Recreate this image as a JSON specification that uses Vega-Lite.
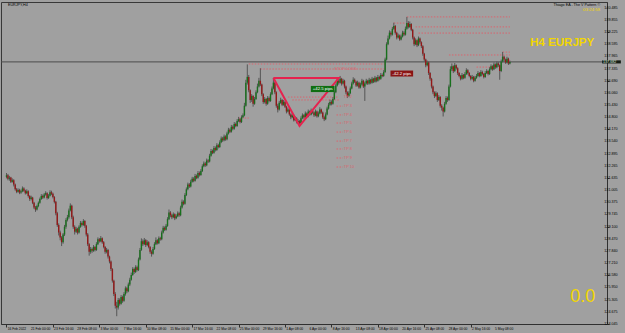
{
"$schema": "https://vega.github.io/schema/vega-lite/v6.json",
"width": 606, "height": 322,
"autosize": {"type": "none"},
"padding": {"left": 1, "top": 2, "right": 18, "bottom": 9},
"background": "#a0a0a0",
"config": {"view": {"stroke": "#383838", "strokeWidth": 1, "fill": "#a0a0a0"}, "axis": {"grid": false, "domainColor": "#303030", "tickColor": "#303030"}},
"datasets": {
"c": [
{"i":0,"o":131.70,"h":131.90,"l":131.62,"c":131.78},{"i":1,"o":131.78,"h":131.85,"l":131.52,"c":131.60},{"i":2,"o":131.60,"h":131.75,"l":131.50,"c":131.66},{"i":3,"o":131.66,"h":131.70,"l":131.38,"c":131.45},{"i":4,"o":131.45,"h":131.62,"l":131.40,"c":131.52},{"i":5,"o":131.52,"h":131.58,"l":131.20,"c":131.30},{"i":6,"o":131.30,"h":131.35,"l":130.98,"c":131.05},{"i":7,"o":131.05,"h":131.12,"l":130.85,"c":130.92},{"i":8,"o":130.92,"h":131.10,"l":130.88,"c":131.02},{"i":9,"o":131.02,"h":131.08,"l":130.80,"c":130.88},
{"i":10,"o":130.88,"h":131.04,"l":130.82,"c":130.95},{"i":11,"o":130.95,"h":131.20,"l":130.90,"c":131.10},{"i":12,"o":131.10,"h":131.16,"l":130.92,"c":130.98},{"i":13,"o":130.98,"h":131.03,"l":130.78,"c":130.85},{"i":14,"o":130.85,"h":131.05,"l":130.80,"c":130.95},{"i":15,"o":130.95,"h":131.00,"l":130.62,"c":130.70},{"i":16,"o":130.70,"h":130.75,"l":130.45,"c":130.55},{"i":17,"o":130.55,"h":130.72,"l":130.48,"c":130.62},{"i":18,"o":130.62,"h":130.66,"l":130.28,"c":130.35},{"i":19,"o":130.35,"h":130.40,"l":130.02,"c":130.10},
{"i":20,"o":130.10,"h":130.18,"l":129.88,"c":130.00},{"i":21,"o":130.00,"h":130.25,"l":129.95,"c":130.18},{"i":22,"o":130.18,"h":130.42,"l":130.12,"c":130.35},{"i":23,"o":130.35,"h":130.62,"l":130.30,"c":130.55},{"i":24,"o":130.55,"h":130.80,"l":130.50,"c":130.70},{"i":25,"o":130.70,"h":130.78,"l":130.55,"c":130.62},{"i":26,"o":130.62,"h":130.86,"l":130.58,"c":130.78},{"i":27,"o":130.78,"h":130.95,"l":130.72,"c":130.85},{"i":28,"o":130.85,"h":130.90,"l":130.52,"c":130.60},{"i":29,"o":130.60,"h":130.80,"l":130.55,"c":130.72},
{"i":30,"o":130.72,"h":131.00,"l":130.68,"c":130.90},{"i":31,"o":130.90,"h":130.98,"l":130.75,"c":130.82},{"i":32,"o":130.82,"h":130.88,"l":130.58,"c":130.65},{"i":33,"o":130.65,"h":130.70,"l":130.32,"c":130.40},{"i":34,"o":130.40,"h":130.45,"l":129.70,"c":129.80},{"i":35,"o":129.80,"h":129.88,"l":129.10,"c":129.20},{"i":36,"o":129.20,"h":129.28,"l":128.65,"c":128.80},{"i":37,"o":128.80,"h":128.90,"l":128.40,"c":128.55},{"i":38,"o":128.55,"h":128.62,"l":128.10,"c":128.30},{"i":39,"o":128.30,"h":128.78,"l":128.22,"c":128.70},
{"i":40,"o":128.70,"h":129.20,"l":128.62,"c":129.10},{"i":41,"o":129.10,"h":129.55,"l":129.00,"c":129.45},{"i":42,"o":129.45,"h":129.72,"l":129.38,"c":129.60},{"i":43,"o":129.60,"h":130.05,"l":129.52,"c":129.95},{"i":44,"o":129.95,"h":130.32,"l":129.90,"c":130.20},{"i":45,"o":130.20,"h":130.25,"l":129.50,"c":129.60},{"i":46,"o":129.60,"h":129.68,"l":129.00,"c":129.10},{"i":47,"o":129.10,"h":129.18,"l":128.70,"c":128.85},{"i":48,"o":128.85,"h":129.10,"l":128.78,"c":129.00},{"i":49,"o":129.00,"h":129.05,"l":128.70,"c":128.80},
{"i":50,"o":128.80,"h":129.18,"l":128.75,"c":129.10},{"i":51,"o":129.10,"h":129.40,"l":129.05,"c":129.30},{"i":52,"o":129.30,"h":129.38,"l":129.12,"c":129.20},{"i":53,"o":129.20,"h":129.50,"l":129.15,"c":129.40},{"i":54,"o":129.40,"h":129.45,"l":129.05,"c":129.15},{"i":55,"o":129.15,"h":129.20,"l":128.60,"c":128.70},{"i":56,"o":128.70,"h":128.78,"l":128.10,"c":128.20},{"i":57,"o":128.20,"h":128.25,"l":127.60,"c":127.80},{"i":58,"o":127.80,"h":128.05,"l":127.70,"c":127.95},{"i":59,"o":127.95,"h":128.02,"l":127.75,"c":127.85},
{"i":60,"o":127.85,"h":128.15,"l":127.80,"c":128.05},{"i":61,"o":128.05,"h":128.10,"l":127.82,"c":127.90},{"i":62,"o":127.90,"h":128.30,"l":127.85,"c":128.20},{"i":63,"o":128.20,"h":128.55,"l":128.15,"c":128.45},{"i":64,"o":128.45,"h":128.52,"l":128.28,"c":128.35},{"i":65,"o":128.35,"h":128.62,"l":128.30,"c":128.50},{"i":66,"o":128.50,"h":128.55,"l":128.22,"c":128.30},{"i":67,"o":128.30,"h":128.36,"l":127.98,"c":128.05},{"i":68,"o":128.05,"h":128.10,"l":127.70,"c":127.80},{"i":69,"o":127.80,"h":128.00,"l":127.72,"c":127.90},
{"i":70,"o":127.90,"h":127.95,"l":127.45,"c":127.55},{"i":71,"o":127.55,"h":127.60,"l":127.20,"c":127.30},{"i":72,"o":127.30,"h":127.35,"l":126.80,"c":126.90},{"i":73,"o":126.90,"h":126.95,"l":126.20,"c":126.30},{"i":74,"o":126.30,"h":126.35,"l":125.50,"c":125.60},{"i":75,"o":125.60,"h":125.70,"l":124.85,"c":125.00},{"i":76,"o":125.00,"h":125.20,"l":124.45,"c":124.90},{"i":77,"o":124.90,"h":125.40,"l":124.80,"c":125.30},{"i":78,"o":125.30,"h":125.38,"l":125.00,"c":125.10},{"i":79,"o":125.10,"h":125.55,"l":125.05,"c":125.45},
{"i":80,"o":125.45,"h":125.52,"l":125.15,"c":125.25},{"i":81,"o":125.25,"h":125.70,"l":125.20,"c":125.60},{"i":82,"o":125.60,"h":126.00,"l":125.52,"c":125.90},{"i":83,"o":125.90,"h":125.98,"l":125.65,"c":125.75},{"i":84,"o":125.75,"h":126.20,"l":125.70,"c":126.10},{"i":85,"o":126.10,"h":126.45,"l":126.02,"c":126.35},{"i":86,"o":126.35,"h":126.72,"l":126.30,"c":126.60},{"i":87,"o":126.60,"h":127.00,"l":126.55,"c":126.90},{"i":88,"o":126.90,"h":126.98,"l":126.65,"c":126.75},{"i":89,"o":126.75,"h":127.10,"l":126.70,"c":127.00},
{"i":90,"o":127.00,"h":127.08,"l":126.78,"c":126.85},{"i":91,"o":126.85,"h":127.50,"l":126.80,"c":127.40},{"i":92,"o":127.40,"h":128.00,"l":127.35,"c":127.90},{"i":93,"o":127.90,"h":128.50,"l":127.85,"c":128.35},{"i":94,"o":128.35,"h":128.45,"l":128.10,"c":128.20},{"i":95,"o":128.20,"h":128.52,"l":128.15,"c":128.40},{"i":96,"o":128.40,"h":128.46,"l":128.05,"c":128.15},{"i":97,"o":128.15,"h":128.40,"l":128.10,"c":128.30},{"i":98,"o":128.30,"h":128.35,"l":127.98,"c":128.05},{"i":99,"o":128.05,"h":128.10,"l":127.70,"c":127.80},
{"i":100,"o":127.80,"h":127.88,"l":127.55,"c":127.70},{"i":101,"o":127.70,"h":128.05,"l":127.65,"c":127.95},{"i":102,"o":127.95,"h":128.30,"l":127.90,"c":128.20},{"i":103,"o":128.20,"h":128.55,"l":128.15,"c":128.40},{"i":104,"o":128.40,"h":128.46,"l":128.18,"c":128.25},{"i":105,"o":128.25,"h":128.60,"l":128.20,"c":128.50},{"i":106,"o":128.50,"h":128.58,"l":128.38,"c":128.45},{"i":107,"o":128.45,"h":128.90,"l":128.40,"c":128.80},{"i":108,"o":128.80,"h":129.15,"l":128.75,"c":129.05},{"i":109,"o":129.05,"h":129.12,"l":128.88,"c":128.95},
{"i":110,"o":128.95,"h":129.25,"l":128.90,"c":129.15},{"i":111,"o":129.15,"h":129.60,"l":129.10,"c":129.50},{"i":112,"o":129.50,"h":130.00,"l":129.45,"c":129.85},{"i":113,"o":129.85,"h":129.92,"l":129.60,"c":129.70},{"i":114,"o":129.70,"h":129.78,"l":129.50,"c":129.60},{"i":115,"o":129.60,"h":129.85,"l":129.55,"c":129.75},{"i":116,"o":129.75,"h":129.80,"l":129.45,"c":129.55},{"i":117,"o":129.55,"h":129.75,"l":129.50,"c":129.65},{"i":118,"o":129.65,"h":129.90,"l":129.60,"c":129.80},{"i":119,"o":129.80,"h":129.88,"l":129.62,"c":129.70},
{"i":120,"o":129.70,"h":130.20,"l":129.65,"c":130.10},{"i":121,"o":130.10,"h":130.52,"l":130.05,"c":130.40},{"i":122,"o":130.40,"h":130.48,"l":130.22,"c":130.30},{"i":123,"o":130.30,"h":130.85,"l":130.25,"c":130.75},{"i":124,"o":130.75,"h":131.15,"l":130.70,"c":131.05},{"i":125,"o":131.05,"h":131.40,"l":131.00,"c":131.30},{"i":126,"o":131.30,"h":131.38,"l":131.12,"c":131.20},{"i":127,"o":131.20,"h":131.55,"l":131.15,"c":131.45},{"i":128,"o":131.45,"h":131.70,"l":131.40,"c":131.60},{"i":129,"o":131.60,"h":131.68,"l":131.42,"c":131.50},
{"i":130,"o":131.50,"h":131.85,"l":131.45,"c":131.75},{"i":131,"o":131.75,"h":131.82,"l":131.58,"c":131.65},{"i":132,"o":131.65,"h":132.00,"l":131.60,"c":131.90},{"i":133,"o":131.90,"h":131.98,"l":131.72,"c":131.80},{"i":134,"o":131.80,"h":132.10,"l":131.75,"c":132.00},{"i":135,"o":132.00,"h":132.35,"l":131.95,"c":132.25},{"i":136,"o":132.25,"h":132.50,"l":132.20,"c":132.40},{"i":137,"o":132.40,"h":132.48,"l":132.22,"c":132.30},{"i":138,"o":132.30,"h":132.65,"l":132.25,"c":132.55},{"i":139,"o":132.55,"h":132.62,"l":132.42,"c":132.50},
{"i":140,"o":132.50,"h":132.90,"l":132.45,"c":132.80},{"i":141,"o":132.80,"h":133.15,"l":132.75,"c":133.05},{"i":142,"o":133.05,"h":133.12,"l":132.88,"c":132.95},{"i":143,"o":132.95,"h":133.30,"l":132.90,"c":133.20},{"i":144,"o":133.20,"h":133.28,"l":133.02,"c":133.10},{"i":145,"o":133.10,"h":133.45,"l":133.05,"c":133.35},{"i":146,"o":133.35,"h":133.42,"l":133.18,"c":133.25},{"i":147,"o":133.25,"h":133.60,"l":133.20,"c":133.50},{"i":148,"o":133.50,"h":133.80,"l":133.45,"c":133.70},{"i":149,"o":133.70,"h":133.78,"l":133.52,"c":133.60},
{"i":150,"o":133.60,"h":133.90,"l":133.55,"c":133.80},{"i":151,"o":133.80,"h":133.86,"l":133.58,"c":133.65},{"i":152,"o":133.65,"h":134.05,"l":133.60,"c":133.95},{"i":153,"o":133.95,"h":134.25,"l":133.90,"c":134.15},{"i":154,"o":134.15,"h":134.22,"l":133.98,"c":134.05},{"i":155,"o":134.05,"h":134.40,"l":134.00,"c":134.30},{"i":156,"o":134.30,"h":134.38,"l":134.12,"c":134.20},{"i":157,"o":134.20,"h":134.55,"l":134.15,"c":134.45},{"i":158,"o":134.45,"h":134.52,"l":134.28,"c":134.35},{"i":159,"o":134.35,"h":134.70,"l":134.30,"c":134.60},
{"i":160,"o":134.60,"h":134.82,"l":134.55,"c":134.70},{"i":161,"o":134.70,"h":134.76,"l":134.48,"c":134.55},{"i":162,"o":134.55,"h":134.90,"l":134.50,"c":134.80},{"i":163,"o":134.80,"h":135.00,"l":134.75,"c":134.90},{"i":164,"o":134.90,"h":135.55,"l":134.85,"c":135.40},{"i":165,"o":135.40,"h":136.75,"l":135.35,"c":136.60},{"i":166,"o":136.60,"h":137.55,"l":136.50,"c":136.90},{"i":167,"o":136.90,"h":137.00,"l":136.10,"c":136.20},{"i":168,"o":136.20,"h":136.25,"l":135.55,"c":135.70},{"i":169,"o":135.70,"h":136.00,"l":135.60,"c":135.90},
{"i":170,"o":135.90,"h":135.95,"l":135.35,"c":135.50},{"i":171,"o":135.50,"h":135.85,"l":135.45,"c":135.75},{"i":172,"o":135.75,"h":136.20,"l":135.70,"c":136.10},{"i":173,"o":136.10,"h":136.55,"l":136.05,"c":136.40},{"i":174,"o":136.40,"h":136.85,"l":136.35,"c":136.70},{"i":175,"o":136.70,"h":137.35,"l":136.42,"c":136.50},{"i":176,"o":136.50,"h":136.55,"l":135.90,"c":136.00},{"i":177,"o":136.00,"h":136.05,"l":135.50,"c":135.60},{"i":178,"o":135.60,"h":135.85,"l":135.52,"c":135.75},{"i":179,"o":135.75,"h":135.80,"l":135.40,"c":135.50},
{"i":180,"o":135.50,"h":135.90,"l":135.45,"c":135.80},{"i":181,"o":135.80,"h":135.88,"l":135.58,"c":135.65},{"i":182,"o":135.65,"h":136.10,"l":135.60,"c":136.00},{"i":183,"o":136.00,"h":136.40,"l":135.95,"c":136.30},{"i":184,"o":136.30,"h":136.85,"l":136.25,"c":136.60},{"i":185,"o":136.60,"h":136.65,"l":136.00,"c":136.10},{"i":186,"o":136.10,"h":136.15,"l":135.30,"c":135.40},{"i":187,"o":135.40,"h":135.50,"l":135.05,"c":135.20},{"i":188,"o":135.20,"h":135.65,"l":135.15,"c":135.55},{"i":189,"o":135.55,"h":135.82,"l":135.50,"c":135.70},
{"i":190,"o":135.70,"h":135.75,"l":135.38,"c":135.45},{"i":191,"o":135.45,"h":135.70,"l":135.40,"c":135.60},{"i":192,"o":135.60,"h":135.65,"l":135.28,"c":135.35},{"i":193,"o":135.35,"h":135.40,"l":135.00,"c":135.10},{"i":194,"o":135.10,"h":135.30,"l":135.05,"c":135.20},{"i":195,"o":135.20,"h":135.25,"l":134.88,"c":134.95},{"i":196,"o":134.95,"h":135.00,"l":134.70,"c":134.80},{"i":197,"o":134.80,"h":135.00,"l":134.75,"c":134.90},{"i":198,"o":134.90,"h":134.95,"l":134.58,"c":134.65},{"i":199,"o":134.65,"h":134.85,"l":134.60,"c":134.75},
{"i":200,"o":134.75,"h":134.80,"l":134.48,"c":134.55},{"i":201,"o":134.55,"h":134.70,"l":134.45,"c":134.60},{"i":202,"o":134.60,"h":134.65,"l":134.36,"c":134.50},{"i":203,"o":134.50,"h":134.85,"l":134.45,"c":134.75},{"i":204,"o":134.75,"h":135.00,"l":134.70,"c":134.90},{"i":205,"o":134.90,"h":134.96,"l":134.72,"c":134.80},{"i":206,"o":134.80,"h":135.10,"l":134.75,"c":135.00},{"i":207,"o":135.00,"h":135.05,"l":134.78,"c":134.85},{"i":208,"o":134.85,"h":135.20,"l":134.80,"c":135.10},{"i":209,"o":135.10,"h":135.15,"l":134.88,"c":134.95},
{"i":210,"o":134.95,"h":135.25,"l":134.90,"c":135.15},{"i":211,"o":135.15,"h":135.22,"l":134.98,"c":135.05},{"i":212,"o":135.05,"h":135.10,"l":134.82,"c":134.90},{"i":213,"o":134.90,"h":135.20,"l":134.85,"c":135.10},{"i":214,"o":135.10,"h":135.15,"l":134.78,"c":134.85},{"i":215,"o":134.85,"h":135.10,"l":134.80,"c":135.00},{"i":216,"o":135.00,"h":135.32,"l":134.95,"c":135.20},{"i":217,"o":135.20,"h":135.25,"l":134.98,"c":135.05},{"i":218,"o":135.05,"h":135.10,"l":134.72,"c":134.80},{"i":219,"o":134.80,"h":134.88,"l":134.60,"c":134.70},
{"i":220,"o":134.70,"h":135.05,"l":134.65,"c":134.95},{"i":221,"o":134.95,"h":135.35,"l":134.90,"c":135.25},{"i":222,"o":135.25,"h":135.55,"l":135.20,"c":135.45},{"i":223,"o":135.45,"h":135.72,"l":135.40,"c":135.60},{"i":224,"o":135.60,"h":135.68,"l":135.42,"c":135.50},{"i":225,"o":135.50,"h":135.85,"l":135.45,"c":135.75},{"i":226,"o":135.75,"h":136.20,"l":135.70,"c":136.10},{"i":227,"o":136.10,"h":136.55,"l":136.05,"c":136.45},{"i":228,"o":136.45,"h":136.80,"l":136.40,"c":136.70},{"i":229,"o":136.70,"h":136.85,"l":136.50,"c":136.60},
{"i":230,"o":136.60,"h":136.95,"l":136.55,"c":136.80},{"i":231,"o":136.80,"h":136.85,"l":136.45,"c":136.55},{"i":232,"o":136.55,"h":136.80,"l":136.50,"c":136.70},{"i":233,"o":136.70,"h":136.75,"l":136.30,"c":136.40},{"i":234,"o":136.40,"h":136.45,"l":136.00,"c":136.10},{"i":235,"o":136.10,"h":136.15,"l":135.80,"c":135.90},{"i":236,"o":135.90,"h":136.15,"l":135.85,"c":136.05},{"i":237,"o":136.05,"h":136.40,"l":136.00,"c":136.30},{"i":238,"o":136.30,"h":136.65,"l":136.25,"c":136.55},{"i":239,"o":136.55,"h":136.88,"l":136.50,"c":136.75},
{"i":240,"o":136.75,"h":136.82,"l":136.58,"c":136.65},{"i":241,"o":136.65,"h":136.70,"l":136.38,"c":136.45},{"i":242,"o":136.45,"h":136.70,"l":136.40,"c":136.60},{"i":243,"o":136.60,"h":136.65,"l":136.28,"c":136.35},{"i":244,"o":136.35,"h":136.60,"l":136.30,"c":136.50},{"i":245,"o":136.50,"h":136.80,"l":136.45,"c":136.70},{"i":246,"o":136.70,"h":136.75,"l":136.32,"c":136.40},{"i":247,"o":136.40,"h":136.65,"l":135.65,"c":136.55},{"i":248,"o":136.55,"h":136.80,"l":136.50,"c":136.70},{"i":249,"o":136.70,"h":136.75,"l":136.48,"c":136.55},
{"i":250,"o":136.55,"h":136.85,"l":136.50,"c":136.75},{"i":251,"o":136.75,"h":136.80,"l":136.52,"c":136.60},{"i":252,"o":136.60,"h":136.90,"l":136.55,"c":136.80},{"i":253,"o":136.80,"h":136.85,"l":136.58,"c":136.65},{"i":254,"o":136.65,"h":136.95,"l":136.60,"c":136.85},{"i":255,"o":136.85,"h":136.90,"l":136.62,"c":136.70},{"i":256,"o":136.70,"h":137.00,"l":136.65,"c":136.90},{"i":257,"o":136.90,"h":136.96,"l":136.72,"c":136.80},{"i":258,"o":136.80,"h":137.10,"l":136.75,"c":137.00},{"i":259,"o":137.00,"h":137.08,"l":136.88,"c":136.95},
{"i":260,"o":136.95,"h":137.25,"l":136.90,"c":137.15},{"i":261,"o":137.15,"h":137.90,"l":137.10,"c":137.80},{"i":262,"o":137.80,"h":138.70,"l":137.75,"c":138.60},{"i":263,"o":138.60,"h":139.05,"l":138.55,"c":138.90},{"i":264,"o":138.90,"h":139.32,"l":138.85,"c":139.20},{"i":265,"o":139.20,"h":139.28,"l":139.00,"c":139.10},{"i":266,"o":139.10,"h":139.50,"l":139.05,"c":139.40},{"i":267,"o":139.40,"h":139.72,"l":139.35,"c":139.55},{"i":268,"o":139.55,"h":139.60,"l":139.10,"c":139.20},{"i":269,"o":139.20,"h":139.25,"l":138.85,"c":138.95},
{"i":270,"o":138.95,"h":139.15,"l":138.90,"c":139.05},{"i":271,"o":139.05,"h":139.10,"l":138.78,"c":138.85},{"i":272,"o":138.85,"h":139.10,"l":138.80,"c":139.00},{"i":273,"o":139.00,"h":139.30,"l":138.95,"c":139.20},{"i":274,"o":139.20,"h":139.28,"l":139.02,"c":139.10},{"i":275,"o":139.10,"h":139.52,"l":139.05,"c":139.40},{"i":276,"o":139.40,"h":140.02,"l":139.35,"c":139.70},{"i":277,"o":139.70,"h":139.80,"l":139.42,"c":139.50},{"i":278,"o":139.50,"h":139.78,"l":139.45,"c":139.65},{"i":279,"o":139.65,"h":139.70,"l":139.28,"c":139.35},
{"i":280,"o":139.35,"h":139.40,"l":138.85,"c":138.95},{"i":281,"o":138.95,"h":139.00,"l":138.50,"c":138.60},{"i":282,"o":138.60,"h":138.90,"l":138.55,"c":138.80},{"i":283,"o":138.80,"h":138.85,"l":138.45,"c":138.55},{"i":284,"o":138.55,"h":139.00,"l":138.50,"c":138.90},{"i":285,"o":138.90,"h":138.95,"l":138.62,"c":138.70},{"i":286,"o":138.70,"h":138.75,"l":138.40,"c":138.50},{"i":287,"o":138.50,"h":138.55,"l":138.00,"c":138.10},{"i":288,"o":138.10,"h":138.15,"l":137.70,"c":137.80},{"i":289,"o":137.80,"h":137.85,"l":137.40,"c":137.50},
{"i":290,"o":137.50,"h":137.75,"l":137.45,"c":137.65},{"i":291,"o":137.65,"h":137.70,"l":137.00,"c":137.10},{"i":292,"o":137.10,"h":137.15,"l":136.70,"c":136.80},{"i":293,"o":136.80,"h":136.85,"l":136.30,"c":136.40},{"i":294,"o":136.40,"h":136.45,"l":136.00,"c":136.10},{"i":295,"o":136.10,"h":136.15,"l":135.80,"c":135.90},{"i":296,"o":135.90,"h":136.15,"l":135.85,"c":136.05},{"i":297,"o":136.05,"h":136.10,"l":135.60,"c":135.70},{"i":298,"o":135.70,"h":135.95,"l":135.65,"c":135.85},{"i":299,"o":135.85,"h":135.90,"l":135.30,"c":135.40},
{"i":300,"o":135.40,"h":135.48,"l":135.15,"c":135.30},{"i":301,"o":135.30,"h":135.35,"l":134.84,"c":135.10},{"i":302,"o":135.10,"h":135.60,"l":135.05,"c":135.50},{"i":303,"o":135.50,"h":135.90,"l":135.45,"c":135.80},{"i":304,"o":135.80,"h":135.88,"l":135.60,"c":135.70},{"i":305,"o":135.70,"h":136.50,"l":135.65,"c":136.40},{"i":306,"o":136.40,"h":137.45,"l":136.35,"c":137.30},{"i":307,"o":137.30,"h":137.60,"l":137.20,"c":137.45},{"i":308,"o":137.45,"h":137.50,"l":137.10,"c":137.20},{"i":309,"o":137.20,"h":137.62,"l":137.15,"c":137.50},
{"i":310,"o":137.50,"h":137.55,"l":137.28,"c":137.35},{"i":311,"o":137.35,"h":137.40,"l":137.00,"c":137.10},{"i":312,"o":137.10,"h":137.15,"l":136.88,"c":136.95},{"i":313,"o":136.95,"h":137.00,"l":136.72,"c":136.80},{"i":314,"o":136.80,"h":137.10,"l":136.75,"c":137.00},{"i":315,"o":137.00,"h":137.05,"l":136.78,"c":136.85},{"i":316,"o":136.85,"h":137.15,"l":136.80,"c":137.05},{"i":317,"o":137.05,"h":137.35,"l":137.00,"c":137.25},{"i":318,"o":137.25,"h":137.30,"l":137.02,"c":137.10},{"i":319,"o":137.10,"h":137.15,"l":136.88,"c":136.95},
{"i":320,"o":136.95,"h":137.00,"l":136.72,"c":136.80},{"i":321,"o":136.80,"h":137.00,"l":136.75,"c":136.90},{"i":322,"o":136.90,"h":136.95,"l":136.62,"c":136.70},{"i":323,"o":136.70,"h":136.95,"l":136.65,"c":136.85},{"i":324,"o":136.85,"h":137.05,"l":136.80,"c":136.95},{"i":325,"o":136.95,"h":137.20,"l":136.90,"c":137.10},{"i":326,"o":137.10,"h":137.15,"l":136.88,"c":136.95},{"i":327,"o":136.95,"h":137.25,"l":136.90,"c":137.15},{"i":328,"o":137.15,"h":137.22,"l":136.98,"c":137.05},{"i":329,"o":137.05,"h":137.10,"l":136.82,"c":136.90},
{"i":330,"o":136.90,"h":137.20,"l":136.85,"c":137.10},{"i":331,"o":137.10,"h":137.30,"l":137.05,"c":137.20},{"i":332,"o":137.20,"h":137.25,"l":136.98,"c":137.05},{"i":333,"o":137.05,"h":137.40,"l":137.00,"c":137.30},{"i":334,"o":137.30,"h":137.55,"l":137.25,"c":137.45},{"i":335,"o":137.45,"h":137.50,"l":137.22,"c":137.30},{"i":336,"o":137.30,"h":137.65,"l":137.25,"c":137.55},{"i":337,"o":137.55,"h":137.60,"l":137.32,"c":137.40},{"i":338,"o":137.40,"h":137.70,"l":137.35,"c":137.60},{"i":339,"o":137.60,"h":137.68,"l":137.42,"c":137.50},
{"i":340,"o":137.50,"h":137.55,"l":136.75,"c":137.20},{"i":341,"o":137.20,"h":137.80,"l":137.15,"c":137.70},{"i":342,"o":137.70,"h":138.20,"l":137.65,"c":137.95},{"i":343,"o":137.95,"h":138.00,"l":137.72,"c":137.80},{"i":344,"o":137.80,"h":137.85,"l":137.58,"c":137.65},{"i":345,"o":137.65,"h":137.95,"l":137.60,"c":137.85},{"i":346,"o":137.85,"h":137.90,"l":137.52,"c":137.60},{"i":347,"o":137.60,"h":137.75,"l":137.55,"c":137.68}
],
"lv": [
{"a":276,"b":347,"p":140.02},{"a":282,"b":347,"p":139.50},{"a":284,"b":347,"p":139.18},{"a":267,"b":275,"p":139.70},{"a":305,"b":347,"p":138.04},{"a":342,"b":347,"p":138.19},{"a":324,"b":334,"p":137.41},{"a":167,"b":261,"p":137.57},{"a":175,"b":261,"p":137.31},{"a":194,"b":229,"p":135.85},{"a":197,"b":229,"p":135.70},{"a":160,"b":167,"p":134.76},
{"a":227.5,"b":232,"p":135.38},{"a":227.5,"b":232,"p":134.92},{"a":227.5,"b":232,"p":134.50},{"a":227.5,"b":232,"p":134.03},{"a":227.5,"b":232,"p":133.56},{"a":227.5,"b":232,"p":133.15},{"a":227.5,"b":232,"p":132.68},{"a":227.5,"b":232,"p":132.21}
],
"bid": [{"p":137.68}],
"tri": [{"k":1,"i":184,"p":136.84},{"k":2,"i":202,"p":134.35},{"k":3,"i":229,"p":136.84},{"k":4,"i":184,"p":136.84}],
"box": [{"a":209.8,"b":226.1,"p1":136.43,"p2":136.11,"m":218,"pm":136.27,"t":"+42.5 pips"},{"a":264.7,"b":280.3,"p1":137.23,"p2":136.92,"m":272.5,"pm":137.075,"t":"-42.2 pips"}],
"tp": [{"i":226,"p":137.31,"t":"STOP LOSS"},{"i":232.5,"p":135.85,"t":"TP 2"},{"i":232.5,"p":135.38,"t":"TP 3"},{"i":232.5,"p":134.92,"t":"TP 4"},{"i":232.5,"p":134.50,"t":"TP 5"},{"i":232.5,"p":134.03,"t":"TP 6"},{"i":232.5,"p":133.56,"t":"TP 7"},{"i":232.5,"p":133.15,"t":"TP 8"},{"i":232.5,"p":132.68,"t":"TP 9"},{"i":232.5,"p":132.21,"t":"TP 10"}],
"hudL": [{"i":1,"p":140.64,"t":"EURJPY,H4"}],
"hudR": [{"i":409.2,"p":140.64,"t":"Thiago EA - The V Pattern ©"}],
"clock": [{"i":409.2,"p":140.36,"t":"03:24:58"}],
"big": [{"i":405.1,"p":138.64,"t":"H4 EURJPY"}],
"zero": [{"i":405.8,"p":125.47,"t":"0.0"}],
"bidlab": [{"a":410.6,"b":423.5,"p1":137.76,"p2":137.60,"m":411.2,"t":"137.682","pm":137.68}],
"xl": [{"i":0,"t":"16 Feb 2022"},{"i":16,"t":"21 Feb 00:00"},{"i":32,"t":"23 Feb 16:00"},{"i":48,"t":"28 Feb 08:00"},{"i":64,"t":"3 Mar 00:00"},{"i":80,"t":"7 Mar 16:00"},{"i":96,"t":"10 Mar 08:00"},{"i":112,"t":"15 Mar 00:00"},{"i":128,"t":"17 Mar 16:00"},{"i":144,"t":"22 Mar 08:00"},{"i":160,"t":"25 Mar 00:00"},{"i":176,"t":"29 Mar 16:00"},{"i":192,"t":"1 Apr 08:00"},{"i":208,"t":"6 Apr 00:00"},{"i":224,"t":"8 Apr 16:00"},{"i":240,"t":"13 Apr 08:00"},{"i":256,"t":"18 Apr 00:00"},{"i":272,"t":"20 Apr 16:00"},{"i":288,"t":"25 Apr 08:00"},{"i":304,"t":"28 Apr 00:00"},{"i":320,"t":"2 May 16:00"},{"i":336,"t":"5 May 08:00"}],
"yl": [{"p":140.485},{"p":139.855},{"p":139.225},{"p":138.595},{"p":137.965},{"p":137.335},{"p":136.690},{"p":136.060},{"p":135.430},{"p":134.800},{"p":134.170},{"p":133.540},{"p":132.895},{"p":132.265},{"p":131.635},{"p":131.005},{"p":130.375},{"p":129.745},{"p":129.100},{"p":128.470},{"p":127.840},{"p":127.210},{"p":126.580},{"p":125.950},{"p":125.305},{"p":124.675},{"p":124.045}]
},
"layer": [
{"data": {"name": "lv"}, "mark": {"type": "rule", "color": "#d9646e", "strokeWidth": 1, "strokeDash": [1.5, 1.5]},
 "encoding": {
  "x": {"field": "a", "type": "quantitative", "title": null, "scale": {"domain": [-0.34, 410.5], "nice": false, "zero": false},
   "axis": {"orient": "bottom", "values": [0,16,32,48,64,80,96,112,128,144,160,176,192,208,224,240,256,272,288,304,320,336], "tickSize": 3, "labels": false}},
  "x2": {"field": "b"},
  "y": {"field": "p", "type": "quantitative", "title": null, "scale": {"domain": [124.045, 140.796], "nice": false, "zero": false},
   "axis": {"orient": "right", "values": [140.485,139.855,139.225,138.595,137.965,137.335,136.690,136.060,135.430,134.800,134.170,133.540,132.895,132.265,131.635,131.005,130.375,129.745,129.100,128.470,127.840,127.210,126.580,125.950,125.305,124.675,124.045], "tickSize": 2, "labels": false}}
 }},
{"data": {"name": "bid"}, "mark": {"type": "rule", "color": "#4a4a4a", "strokeWidth": 1}, "encoding": {"y": {"field": "p", "type": "quantitative", "title": null}}},
{"data": {"name": "c"}, "mark": {"type": "rule", "color": "#555555", "strokeWidth": 1}, "encoding": {"x": {"field": "i", "type": "quantitative", "title": null}, "y": {"field": "l", "type": "quantitative", "title": null}, "y2": {"field": "h"}}},
{"data": {"name": "c"}, "mark": {"type": "bar", "size": 1.4}, "encoding": {"x": {"field": "i", "type": "quantitative", "title": null}, "y": {"field": "o", "type": "quantitative", "title": null}, "y2": {"field": "c"}, "color": {"condition": {"test": "datum.c >= datum.o", "value": "#17701c"}, "value": "#941818"}}},
{"data": {"name": "tri"}, "mark": {"type": "line", "color": "#e5234f", "strokeWidth": 2}, "encoding": {"x": {"field": "i", "type": "quantitative", "title": null}, "y": {"field": "p", "type": "quantitative", "title": null}, "order": {"field": "k"}}},
{"data": {"name": "box"}, "mark": {"type": "rect", "stroke": null}, "encoding": {"x": {"field": "a", "type": "quantitative", "title": null}, "x2": {"field": "b"}, "y": {"field": "p1", "type": "quantitative", "title": null}, "y2": {"field": "p2"}, "color": {"condition": {"test": "datum.t[0] == '+'", "value": "#0f6e12"}, "value": "#8a1414"}}},
{"data": {"name": "box"}, "mark": {"type": "text", "color": "#ffffff", "font": "Liberation Sans", "fontSize": 4.3, "align": "center", "baseline": "middle"}, "encoding": {"x": {"field": "m", "type": "quantitative", "title": null}, "y": {"field": "pm", "type": "quantitative", "title": null}, "text": {"field": "t"}}},
{"data": {"name": "tp"}, "mark": {"type": "text", "color": "#d9646e", "font": "Liberation Sans", "fontSize": 3.9, "align": "left", "baseline": "middle"}, "encoding": {"x": {"field": "i", "type": "quantitative", "title": null}, "y": {"field": "p", "type": "quantitative", "title": null}, "text": {"field": "t"}}},
{"data": {"name": "xl"}, "mark": {"type": "text", "color": "#000000", "font": "Liberation Sans", "fontSize": 3.3, "align": "left", "baseline": "top", "dx": 1.2}, "encoding": {"x": {"field": "i", "type": "quantitative", "title": null}, "y": {"datum": 123.90, "type": "quantitative"}, "text": {"field": "t"}}},
{"data": {"name": "yl"}, "mark": {"type": "text", "color": "#000000", "font": "Liberation Sans", "fontSize": 3.7, "align": "left", "baseline": "middle"}, "encoding": {"x": {"datum": 412.1, "type": "quantitative"}, "y": {"field": "p", "type": "quantitative", "title": null}, "text": {"field": "p", "type": "quantitative", "format": ".3f"}}},
{"data": {"name": "hudL"}, "mark": {"type": "text", "color": "#000000", "font": "Liberation Sans", "fontSize": 3.7, "align": "left", "baseline": "middle"}, "encoding": {"x": {"field": "i", "type": "quantitative", "title": null}, "y": {"field": "p", "type": "quantitative", "title": null}, "text": {"field": "t"}}},
{"data": {"name": "hudR"}, "mark": {"type": "text", "color": "#000000", "font": "Liberation Sans", "fontSize": 3.7, "align": "right", "baseline": "middle"}, "encoding": {"x": {"field": "i", "type": "quantitative", "title": null}, "y": {"field": "p", "type": "quantitative", "title": null}, "text": {"field": "t"}}},
{"data": {"name": "clock"}, "mark": {"type": "text", "color": "#f2d600", "font": "Liberation Sans", "fontSize": 4.4, "align": "right", "baseline": "middle"}, "encoding": {"x": {"field": "i", "type": "quantitative", "title": null}, "y": {"field": "p", "type": "quantitative", "title": null}, "text": {"field": "t"}}},
{"data": {"name": "big"}, "mark": {"type": "text", "color": "#f2d600", "font": "Liberation Sans", "fontWeight": "bold", "fontSize": 11.5, "align": "right", "baseline": "middle"}, "encoding": {"x": {"field": "i", "type": "quantitative", "title": null}, "y": {"field": "p", "type": "quantitative", "title": null}, "text": {"field": "t"}}},
{"data": {"name": "zero"}, "mark": {"type": "text", "color": "#f2d600", "font": "Liberation Sans", "fontSize": 18, "align": "right", "baseline": "middle"}, "encoding": {"x": {"field": "i", "type": "quantitative", "title": null}, "y": {"field": "p", "type": "quantitative", "title": null}, "text": {"field": "t"}}},
{"data": {"name": "bidlab"}, "mark": {"type": "rect", "color": "#141c14"}, "encoding": {"x": {"field": "a", "type": "quantitative", "title": null}, "x2": {"field": "b"}, "y": {"field": "p1", "type": "quantitative", "title": null}, "y2": {"field": "p2"}}},
{"data": {"name": "bidlab"}, "mark": {"type": "text", "color": "#d8e8d8", "font": "Liberation Sans", "fontSize": 3.7, "align": "left", "baseline": "middle"}, "encoding": {"x": {"field": "m", "type": "quantitative", "title": null}, "y": {"field": "pm", "type": "quantitative", "title": null}, "text": {"field": "t"}}}
]
}
